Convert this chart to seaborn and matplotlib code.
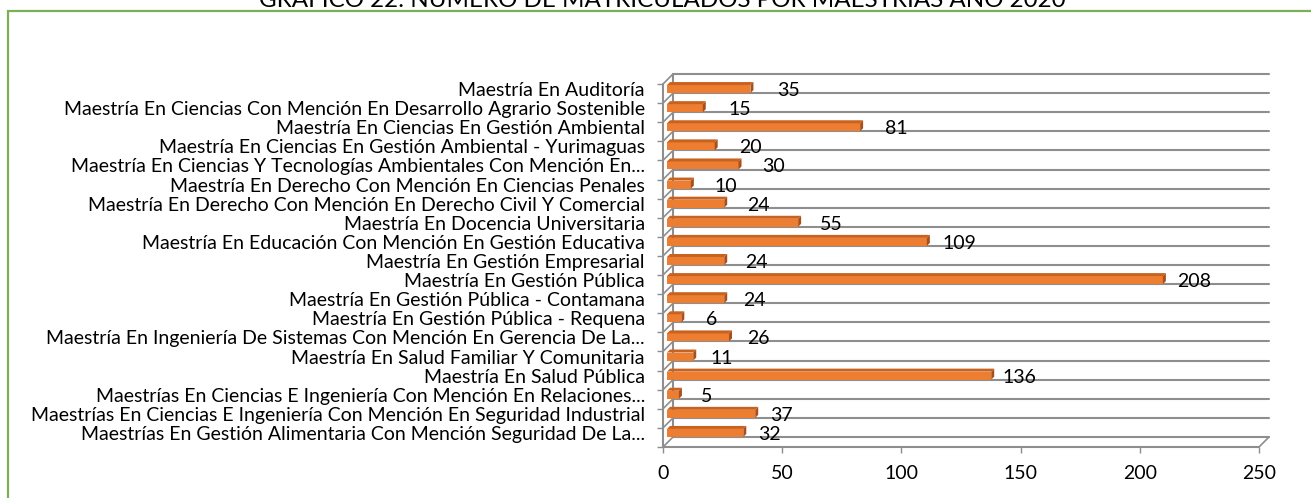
import numpy as np
import pandas as pd
import matplotlib
matplotlib.use("Agg")
import matplotlib.pyplot as plt
import seaborn as sns
from matplotlib.transforms import ScaledTranslation, IdentityTransform
from matplotlib.patches import Polygon, Rectangle
from matplotlib.lines import Line2D

# ---------------- data ----------------
categories = [
    "Maestría En Auditoría",
    "Maestría En Ciencias Con Mención En Desarrollo Agrario Sostenible",
    "Maestría En Ciencias En Gestión Ambiental",
    "Maestría En Ciencias En Gestión Ambiental - Yurimaguas",
    "Maestría En Ciencias Y Tecnologías Ambientales Con Mención En...",
    "Maestría En Derecho Con Mención En Ciencias Penales",
    "Maestría En Derecho Con Mención En Derecho Civil Y Comercial",
    "Maestría En Docencia Universitaria",
    "Maestría En Educación Con Mención En Gestión Educativa",
    "Maestría En Gestión Empresarial",
    "Maestría En Gestión Pública",
    "Maestría En Gestión Pública - Contamana",
    "Maestría En Gestión Pública - Requena",
    "Maestría En Ingeniería De Sistemas Con Mención En Gerencia De La...",
    "Maestría En Salud Familiar Y Comunitaria",
    "Maestría En Salud Pública",
    "Maestrías En Ciencias E Ingeniería Con Mención En Relaciones...",
    "Maestrías En Ciencias E Ingeniería Con Mención En Seguridad Industrial",
    "Maestrías En Gestión Alimentaria Con Mención Seguridad De La...",
]
values = [35, 15, 81, 20, 30, 10, 24, 55, 109, 24, 208, 24, 6, 26, 11, 136, 5, 37, 32]
x_ticks = [0, 50, 100, 150, 200, 250]
title = "GRÁFICO 22: NÚMERO DE MATRICULADOS POR MAESTRÍAS AÑO 2020"

# ---------------- style ----------------
sns.set_theme(style="white")
plt.rcParams['font.family'] = ['Lato', 'DejaVu Sans']

W, H, DPI = 1311, 498, 100
fig = plt.figure(figsize=(W / DPI, H / DPI), dpi=DPI)
fig.patch.set_facecolor('white')


def fx(px):
    return px / W


def fy(py):
    return 1 - py / H


def off(dx, dy):
    return ScaledTranslation(dx / DPI, dy / DPI, fig.dpi_scale_trans)


renderer = fig.canvas.get_renderer()


def text_width(s, size, weight='normal'):
    t = fig.text(0, 0, s, fontsize=size, fontweight=weight)
    w = t.get_window_extent(renderer).width
    t.remove()
    return w


lab_size = 14 * 583 / text_width(categories[1], 14)
title_size = 14 * 805 / text_width(title, 14)

GRID = '#8E8E8E'
DEPTH = 10           # back wall offset (px)
MIDX, MIDY = 4, 4.5  # bar plane offset (px)
EXT = 3              # bar extrusion (px)

# plot area (front plane)
x0, x1 = 663, 1259
y0, y1 = 84, 447
ax = fig.add_axes([fx(x0), fy(y1), (x1 - x0) / W, (y1 - y0) / H])
ax.set_facecolor('none')

df = pd.DataFrame({'programa': categories, 'matriculados': values})
sns.barplot(data=df, y='programa', x='matriculados', orient='h', width=0.42,
            color='#ED7D31', saturation=1, ax=ax, zorder=4)

n = len(categories)
ax.set_xlim(0, 250)
ax.set_ylim(n - 0.5, -0.5)
for s in ax.spines.values():
    s.set_visible(False)
ax.set_xlabel('')
ax.set_ylabel('')
ax.grid(False)

bounds = np.arange(n + 1) - 0.5

# back wall gridlines
for b in bounds:
    ax.add_line(Line2D([0, 250], [b, b], color=GRID, lw=1.5,
                       transform=ax.transData + off(DEPTH, DEPTH),
                       clip_on=False, zorder=1))
# back wall left edge
ax.add_line(Line2D([0, 0], [bounds[0], bounds[-1]], color=GRID, lw=1.5,
                   transform=ax.transData + off(DEPTH, DEPTH), clip_on=False, zorder=1))
# left wall front edge
ax.add_line(Line2D([0, 0], [bounds[0], bounds[-1]], color=GRID, lw=1.5,
                   transform=ax.transData, clip_on=False, zorder=1))
# floor front edge
ax.add_line(Line2D([0, 250], [bounds[-1], bounds[-1]], color=GRID, lw=1.5,
                   transform=ax.transData, clip_on=False, zorder=1))
# left wall diagonals
for b in bounds:
    p = ax.transData.transform((0, b))
    fig.add_artist(Line2D([p[0], p[0] + DEPTH], [p[1], p[1] + DEPTH], color=GRID,
                          lw=1.2, transform=IdentityTransform(), zorder=1))
# floor right diagonal
p = ax.transData.transform((250, bounds[-1]))
fig.add_artist(Line2D([p[0], p[0] + DEPTH], [p[1], p[1] + DEPTH], color=GRID,
                      lw=1.2, transform=IdentityTransform(), zorder=1))

# bars: shift to mid depth and add 3D faces
shift = np.array([MIDX, MIDY])
for patch in list(ax.patches):
    patch.set_transform(ax.transData + off(MIDX, MIDY))
    patch.set_clip_on(False)
    patch.set_edgecolor('none')
    bx, by, bw, bh = patch.get_x(), patch.get_y(), patch.get_width(), patch.get_height()
    ya, yb = by, by + bh
    pa = ax.transData.transform((bx + bw, ya)) + shift
    pb = ax.transData.transform((bx + bw, yb)) + shift
    pr_top, pr_bot = (pa, pb) if pa[1] > pb[1] else (pb, pa)
    pl_top = np.array([ax.transData.transform((bx, ya))[0] + MIDX, pr_top[1]])
    top = Polygon([pl_top, pr_top, pr_top + EXT, pl_top + EXT], closed=True,
                  facecolor='#C9621F', edgecolor='none', transform=IdentityTransform(),
                  zorder=5)
    side = Polygon([pr_bot, pr_top, pr_top + EXT, pr_bot + EXT], closed=True,
                   facecolor='#A9501A', edgecolor='none', transform=IdentityTransform(),
                   zorder=5)
    fig.add_artist(top)
    fig.add_artist(side)

# value labels
for i, v in enumerate(values):
    dx = 42 - 12 * i / (n - 1)
    ax.text(v, i, str(v), ha='center', va='center', fontsize=lab_size, color='black',
            transform=ax.transData + off(dx, 3), clip_on=False, zorder=6)

# y ticks: labels at categories, marks at boundaries
ax.set_yticks(range(n))
ax.set_yticklabels(categories)
ax.set_yticks(bounds, minor=True)
ax.tick_params(axis='y', which='major', length=0, pad=13, labelsize=lab_size,
               labelcolor='black', left=True)
ax.tick_params(axis='y', which='minor', length=4.3, width=1.0, color=GRID, left=True)
for lab in ax.get_yticklabels():
    lab.set_transform(lab.get_transform() + off(0, 4.5))

# x ticks
ax.set_xticks(x_ticks)
ax.set_xticklabels([str(t) for t in x_ticks])
ax.tick_params(axis='x', which='major', length=4.3, width=1.0, color=GRID, pad=9,
               labelsize=lab_size, labelcolor='black', bottom=True, direction='out')

# chart area border (green) and title (clipped at the top edge as in the source)
fig.add_artist(Rectangle((fx(8), -0.05), 1.2, fy(11) + 0.05, fill=False,
                         edgecolor='#7DAF57', lw=1.6, transform=fig.transFigure))
fig.text(fx(662), fy(7), title, ha='center', va='baseline', fontsize=title_size,
         color='black')

fig.savefig('out.png', dpi=DPI, facecolor='white')
